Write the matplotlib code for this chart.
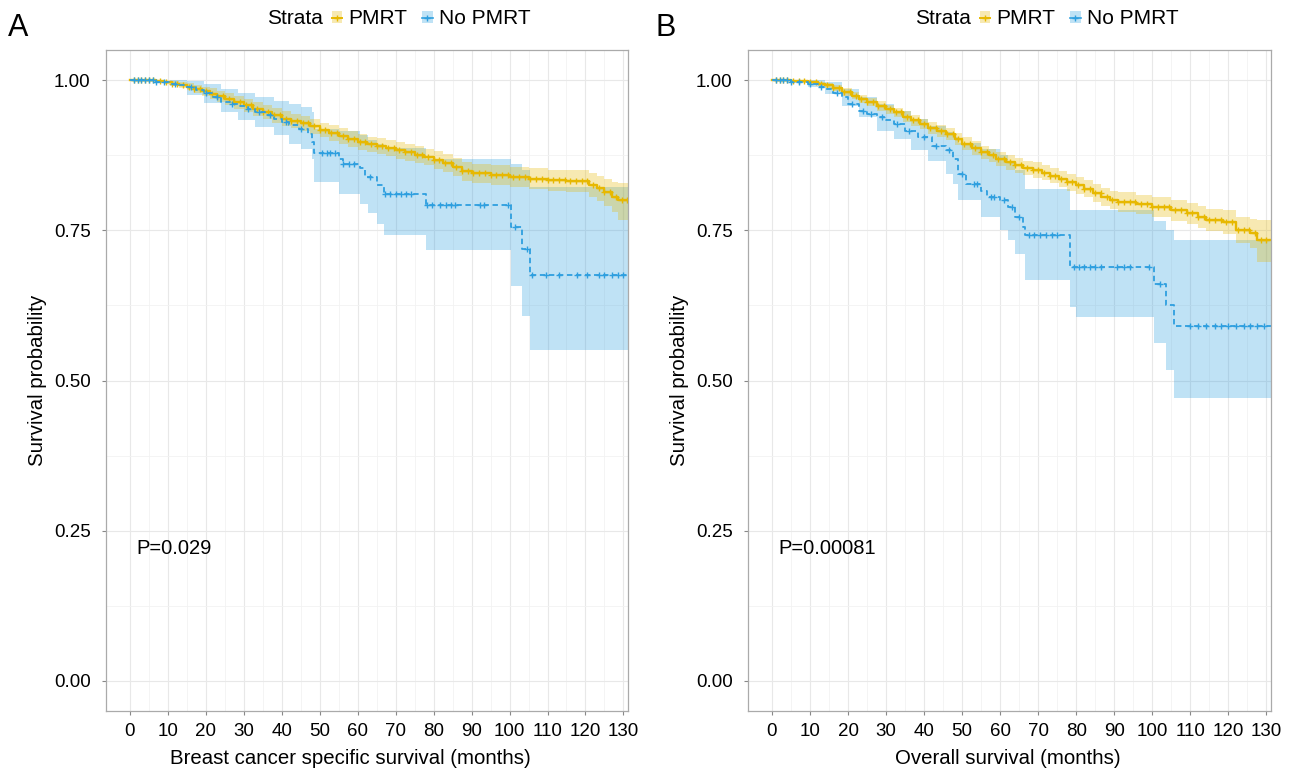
import numpy as np
import matplotlib.pyplot as plt
from matplotlib.lines import Line2D
from matplotlib.patches import Patch

plt.rcParams['font.family'] = ['Liberation Sans', 'DejaVu Sans']

PMRT_COL = '#E7B800'
NO_COL = '#2E9FDF'
T_END = 131.2

##############################
## Panel A : breast cancer specific survival
a_pm_t = [0, 7, 9, 11, 13, 15, 17, 19, 21, 23, 25, 27.5, 30, 32.5, 35, 37.5, 40, 42.5, 45, 47.5,
          50, 52.5, 55, 57.5, 60, 62.5, 65, 67.5, 70, 72.5, 75, 77.5, 80, 82.5, 85, 87.5, 90, 95, 100, 105,
          110, 115, 121, 123, 125, 127, 128.5]
a_pm_s = [1.0, .998, .996, .994, .991, .989, .985, .981, .977, .973, .969, .963, .958, .952, .947, .941, .936, .932, .928, .923,
          .917, .912, .907, .902, .897, .893, .89, .887, .883, .88, .876, .872, .867, .862, .856, .848, .845, .842, .839, .836,
          .833, .832, .826, .82, .813, .806, .80]
a_pm_up = [1.0, 1.0, .999, .998, .996, .995, .992, .989, .986, .982, .979, .974, .969, .964, .959, .953, .948, .944, .940, .935,
           .929, .925, .920, .915, .910, .906, .903, .900, .897, .894, .890, .886, .882, .877, .871, .864, .861, .858, .856, .853,
           .851, .851, .846, .841, .836, .831, .828]
a_pm_lo = [1.0, .995, .993, .990, .986, .983, .978, .973, .968, .964, .959, .952, .947, .940, .935, .929, .924, .920, .916, .911,
           .905, .899, .894, .889, .884, .880, .877, .874, .869, .866, .862, .858, .852, .847, .841, .832, .829, .826, .822, .818,
           .815, .813, .805, .798, .79, .78, .767]

a_no_t = [0, 7, 10.5, 13, 15, 17.5, 19.5, 22, 24, 26.5, 28.6, 31, 33, 35.5, 38, 40, 42, 44.5, 47, 48,
          48.6, 55, 56, 60.5, 62, 65, 67, 78, 100.5, 103.4, 105.5]
a_no_s = [1.0, .997, .994, .991, .988, .983, .978, .971, .964, .960, .956, .951, .947, .942, .936, .931, .926, .919, .911, .897,
          .878, .869, .861, .853, .839, .825, .81, .792, .756, .719, .675]
a_no_bt = [0, 7, 10.5, 15, 19.5, 24, 28.6, 33, 38, 42, 45, 48, 48.6, 55, 60.5, 62.7, 65, 67, 78, 100.5, 103.4, 105.5]
a_no_up = [1.0, 1.0, 1.0, .998, .993, .985, .978, .972, .965, .96, .955, .947, .919, .915, .908, .9, .893, .887, .869, .86, .85, .822]
a_no_lo = [1.0, 1.0, .99, .975, .961, .947, .933, .922, .908, .894, .885, .869, .83, .811, .794, .778, .761, .742, .717, .658, .608, .55]

a_pm_cens = [1, 2, 3, 4, 5, 6, 8, 9.5, 11, 12.5, 14, 15.5, 17, 18.5, 20, 21.5, 23, 24.5, 26, 27.5, 29, 30.5, 32, 33.5,
             35, 36.5, 38, 39.5, 41, 42.5, 44, 45.5, 47, 48.5, 50, 51.5, 53, 54.5, 56, 57.5, 59, 60.5, 62, 63.5, 65,
             66.5, 68, 69.5, 71, 72.5, 74, 75.5, 77, 78.5, 80, 81.5, 83, 84.5, 86, 87.5, 89, 90.5, 92, 93.5, 95, 96.5,
             98, 99.5, 101, 102.5, 104, 105.5, 107, 108.5, 110, 111.5, 113, 114.5, 116, 117.5, 119, 120.5, 122, 123.5,
             125, 126.5, 128, 129.5, 131]
a_no_cens = [1, 2, 3, 4, 5, 6, 7, 9, 12, 16, 20, 23, 27, 31, 34, 37, 41, 45, 50.5, 51.8, 52.7, 54, 56, 57.7, 59, 63.2,
             67.3, 68.6, 70, 71.4, 72.7, 74, 78.2, 79.5, 81.8, 83.2, 84.5, 85.5, 92.3, 93.2, 99.5, 101.5, 104.5,
             106, 109.5, 113, 117.7, 120.5, 123.6, 125, 127, 128.6, 130]

##############################
## Panel B : overall survival
b_pm_t = [0, 5, 9.4, 12, 14, 16, 18.5, 21, 23, 25, 27.5, 30, 32, 34.5, 36.6, 39, 41, 43.5, 45.7, 48,
          50, 52.5, 55, 57, 59, 61.5, 64, 66, 68.5, 71, 73, 75.5, 77.5, 80, 82, 84.5, 86.6, 89, 91, 95.7,
          100, 105, 109, 112, 114, 118.5, 122, 125.7, 127.5]
b_pm_s = [1.0, .998, .996, .993, .991, .986, .98, .974, .968, .963, .957, .951, .946, .939, .933, .927, .921, .916, .91, .902,
          .894, .887, .88, .875, .869, .863, .858, .854, .85, .846, .841, .835, .83, .825, .819, .812, .805, .801, .797, .793,
          .789, .783, .778, .772, .767, .764, .75, .745, .733]
b_pm_up = [1.0, 1.0, .998, .996, .995, .991, .986, .980, .975, .970, .965, .959, .954, .948, .942, .936, .931, .926, .92, .912,
           .905, .898, .891, .886, .881, .875, .87, .866, .863, .859, .854, .848, .844, .839, .833, .827, .82, .816, .813, .809,
           .806, .8, .796, .791, .786, .784, .772, .769, .767]
b_pm_lo = [1.0, .996, .994, .990, .987, .981, .974, .968, .961, .956, .949, .943, .938, .93, .924, .918, .911, .906, .9, .892,
           .883, .876, .869, .864, .857, .851, .846, .842, .837, .833, .828, .822, .816, .811, .805, .797, .79, .785, .781, .777,
           .772, .766, .76, .753, .748, .744, .728, .72, .697]

b_no_t = [0, 5, 9.4, 12, 14, 16, 18.5, 20, 23, 25, 27.5, 30, 32, 35, 38.5, 42, 45.7, 47.5, 49, 51,
          55, 56.6, 60, 62, 64, 66, 66.6, 78.3, 100.5, 103.5, 105.7]
b_no_s = [1.0, .997, .993, .989, .985, .978, .971, .96, .949, .944, .938, .933, .927, .916, .905, .891, .883, .869, .844, .827,
          .816, .805, .80, .789, .772, .756, .742, .689, .661, .626, .59]
b_no_bt = [0, 5, 9.4, 14, 18.5, 23, 27.5, 32, 36.6, 41, 45.7, 47.5, 49, 55, 60, 62, 64, 66.6, 78.3, 80, 100.5, 103.5, 105.7]
b_no_up = [1.0, 1.0, 1.0, .997, .985, .972, .96, .949, .935, .924, .913, .905, .895, .886, .876, .866, .85, .819, .783, .783,
           .765, .75, .733]
b_no_lo = [1.0, .995, .988, .977, .957, .938, .916, .902, .883, .866, .844, .827, .8, .772, .75, .733, .711, .667, .623, .606,
           .562, .518, .471]

b_pm_cens = [1, 2, 3, 4, 5.5, 7, 8.5, 10, 11.5, 13, 14.5, 16, 17.5, 19, 20.5, 22, 23.5, 25, 26.5, 28, 29.5, 31, 32.5,
             34, 35.5, 37, 38.5, 40, 41.5, 43, 44.5, 46, 47.5, 49, 50.5, 52, 53.5, 55, 56.5, 58, 59.5, 61, 62.5, 64,
             65.5, 67, 68.5, 70, 71.5, 73, 74.5, 76, 77.5, 79, 80.5, 82, 83.5, 85, 86.5, 88, 89.5, 91, 92.5, 94, 95.5,
             97, 98.5, 100, 101.5, 103, 104.5, 106, 107.5, 109, 110.5, 112, 113.5, 115, 116.5, 118, 119.5, 121, 122.5,
             124, 125.5, 127, 128.5, 130]
b_no_cens = [1, 2, 3, 4, 5, 7, 10, 13, 17, 21, 24, 26, 29, 33, 36, 40, 43, 46.5, 50, 53, 54, 57.5, 58.5, 61, 63, 65,
             67.5, 69, 70.4, 72, 73.5, 74.9, 79.4, 80.7, 82, 83.5, 84.8, 86.6, 90.7, 92.5, 94, 99, 102,
             110, 112, 114, 116.6, 118, 120, 122, 124, 125.7, 127.5, 129.4]


def ext(t, v):
    return list(t) + [T_END], list(v) + [v[-1]]


def at_time(t, s, pts):
    idx = np.searchsorted(t, pts, side='right') - 1
    return np.asarray(s)[idx]


def draw_panel(ax, pm, no, pval, xlabel, xlab_pos):
    pm_t, pm_s, pm_up, pm_lo, pm_c = pm
    no_t, no_s, no_bt, no_up, no_lo, no_c = no

    tt, up = ext(no_bt, no_up)
    _, lo = ext(no_bt, no_lo)
    ax.fill_between(tt, lo, up, step='post', color=NO_COL, alpha=0.3, lw=0)
    tt, up = ext(pm_t, pm_up)
    _, lo = ext(pm_t, pm_lo)
    ax.fill_between(tt, lo, up, step='post', color=PMRT_COL, alpha=0.3, lw=0)

    tt, ss = ext(pm_t, pm_s)
    ax.step(tt, ss, where='post', color=PMRT_COL, lw=1.7)
    ax.plot(pm_c, at_time(pm_t, pm_s, pm_c), '+', color=PMRT_COL, ms=4.5, mew=1.0)

    tt, ss = ext(no_t, no_s)
    ax.step(tt, ss, where='post', color=NO_COL, lw=1.3, ls=(0, (3, 2)))
    ax.plot(no_c, at_time(no_t, no_s, no_c), '+', color=NO_COL, ms=4.5, mew=1.0)

    ax.text(1.8, 0.221, pval, fontsize=14.5, va='center', ha='left')

    ax.set_xlim(-6.3, T_END)
    ax.set_ylim(-0.05, 1.05)
    ax.set_xticks(np.arange(0, 131, 10))
    ax.set_xticks(np.arange(5, 131, 10), minor=True)
    ax.set_yticks([0, 0.25, 0.5, 0.75, 1.0])
    ax.set_yticks([0.125, 0.375, 0.625, 0.875], minor=True)
    ax.set_yticklabels(['0.00', '0.25', '0.50', '0.75', '1.00'])
    ax.grid(which='major', color='#E8E8E8', lw=0.8)
    ax.grid(which='minor', color='#F2F2F2', lw=0.6)
    ax.set_axisbelow(True)
    ax.tick_params(which='major', length=3, color='#888888', labelsize=13.5)
    ax.tick_params(axis='y', pad=8)
    ax.tick_params(axis='x', pad=6)
    ax.tick_params(which='minor', length=0)
    for sp in ax.spines.values():
        sp.set_color('#AAAAAA')
        sp.set_linewidth(0.9)
    ax.set_xlabel(xlabel, fontsize=14.7)
    ax.xaxis.set_label_coords(xlab_pos, -0.057)
    ax.set_ylabel('Survival probability', fontsize=14.7, labelpad=5)


fig = plt.figure(figsize=(12.94, 7.71), dpi=100)
ax_a = fig.add_axes([106 / 1294, 1 - 711 / 771, 522 / 1294, 661 / 771])
ax_b = fig.add_axes([748 / 1294, 1 - 711 / 771, 523 / 1294, 661 / 771])

draw_panel(ax_a, (a_pm_t, a_pm_s, a_pm_up, a_pm_lo, a_pm_cens),
           (a_no_t, a_no_s, a_no_bt, a_no_up, a_no_lo, a_no_cens),
           'P=0.029', 'Breast cancer specific survival (months)', 0.468)
draw_panel(ax_b, (b_pm_t, b_pm_s, b_pm_up, b_pm_lo, b_pm_cens),
           (b_no_t, b_no_s, b_no_bt, b_no_up, b_no_lo, b_no_cens),
           'P=0.00081', 'Overall survival (months)', 0.497)

handles = [(Patch(facecolor=PMRT_COL, alpha=0.3, lw=0), Line2D([], [], color=PMRT_COL, marker='+', lw=1.4, ms=4)),
           (Patch(facecolor=NO_COL, alpha=0.3, lw=0), Line2D([], [], color=NO_COL, marker='+', lw=1.2, ms=4))]
for dx, letter in [(0, 'A'), (648, 'B')]:
    fig.text((8 + dx) / 1294, 1 - 28 / 771, letter, fontsize=22, va='center', ha='left')
    fig.text((323 + dx) / 1294, 1 - 19 / 771, 'Strata', fontsize=15, va='center', ha='right')
    fig.legend(handles, ['PMRT', 'No PMRT'], loc='center left', ncol=2, frameon=False,
               bbox_to_anchor=((332 + dx) / 1294, 1 - 19 / 771), fontsize=15,
               handlelength=0.5, handleheight=0.55, handletextpad=0.3, columnspacing=0.7, borderpad=0, borderaxespad=0)

fig.savefig('out.png', dpi=100)
